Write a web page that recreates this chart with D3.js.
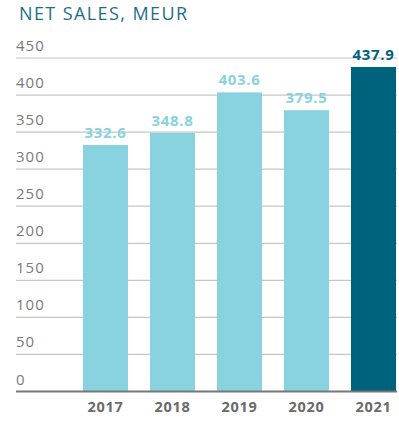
<!DOCTYPE html>
<html>
<head>
<meta charset="utf-8">
<script src="https://cdn.jsdelivr.net/npm/d3@7"></script>
<style>
  html, body { margin: 0; padding: 0; background: #fff; }
  svg { display: block; }
  text { font-family: "Open Sans", "Noto Sans", sans-serif; }
</style>
</head>
<body>
<svg id="chart" width="399" height="421"></svg>
<script>
// Net sales by year, MEUR
const years = ["2017", "2018", "2019", "2020", "2021"];
const netSales = [332.6, 348.8, 403.6, 379.5, 437.9];
const yTicks = [0, 50, 100, 150, 200, 250, 300, 350, 400, 450];
const highlightYear = "2021";

const svg = d3.select("#chart");

const lightBlue = "#89d3e0";
const darkTeal = "#00637d";

const x = d3.scaleBand()
  .domain(years)
  .range([72, 407])
  .paddingInner(0.328)
  .paddingOuter(0.164);

const y = d3.scaleLinear()
  .domain([0, 450])
  .range([391.5, 58]);

// Title
svg.append("text")
  .attr("x", 19)
  .attr("y", 20)
  .attr("fill", "#1e6e88")
  .attr("font-size", 18)
  .attr("letter-spacing", 1.4)
  .text("NET SALES, MEUR");

// Horizontal gridlines with their labels sitting above them
const grid = svg.append("g");
grid.selectAll("line")
  .data(yTicks.filter(d => d > 0))
  .join("line")
  .attr("x1", 16)
  .attr("x2", 397)
  .attr("y1", d => y(d))
  .attr("y2", d => y(d))
  .attr("stroke", "#c6c6c6")
  .attr("stroke-width", 1.2);

grid.selectAll("text")
  .data(yTicks)
  .join("text")
  .attr("x", 16)
  .attr("y", d => y(d) - 7)
  .attr("fill", "#7a7a7a")
  .attr("font-size", 15)
  .attr("letter-spacing", 1)
  .text(d => d);

// Bars
svg.append("g")
  .selectAll("rect")
  .data(years)
  .join("rect")
  .attr("x", d => x(d))
  .attr("width", x.bandwidth())
  .attr("y", (d, i) => y(netSales[i]))
  .attr("height", (d, i) => y(0) - y(netSales[i]))
  .attr("fill", d => d === highlightYear ? darkTeal : lightBlue);

// Value labels above bars
svg.append("g")
  .selectAll("text")
  .data(years)
  .join("text")
  .attr("x", d => x(d) + x.bandwidth() / 2)
  .attr("y", (d, i) => y(netSales[i]) - 7)
  .attr("text-anchor", "middle")
  .attr("font-size", 15)
  .attr("font-weight", "bold")
  .attr("letter-spacing", 0.7)
  .attr("fill", d => d === highlightYear ? darkTeal : lightBlue)
  .text((d, i) => netSales[i].toFixed(1));

// Baseline
svg.append("line")
  .attr("x1", 16)
  .attr("x2", 397)
  .attr("y1", y(0))
  .attr("y2", y(0))
  .attr("stroke", "#777")
  .attr("stroke-width", 2);

// Year axis
const xAxis = svg.append("g")
  .attr("transform", `translate(0,${y(0)})`)
  .call(d3.axisBottom(x).tickSize(0).tickPadding(10));
xAxis.select(".domain").remove();
xAxis.selectAll("text")
  .attr("font-family", "'Open Sans', 'Noto Sans', sans-serif")
  .attr("font-size", 14.5)
  .attr("font-weight", "bold")
  .attr("letter-spacing", 0.7)
  .attr("fill", "#6a6a6a");
</script>
</body>
</html>
